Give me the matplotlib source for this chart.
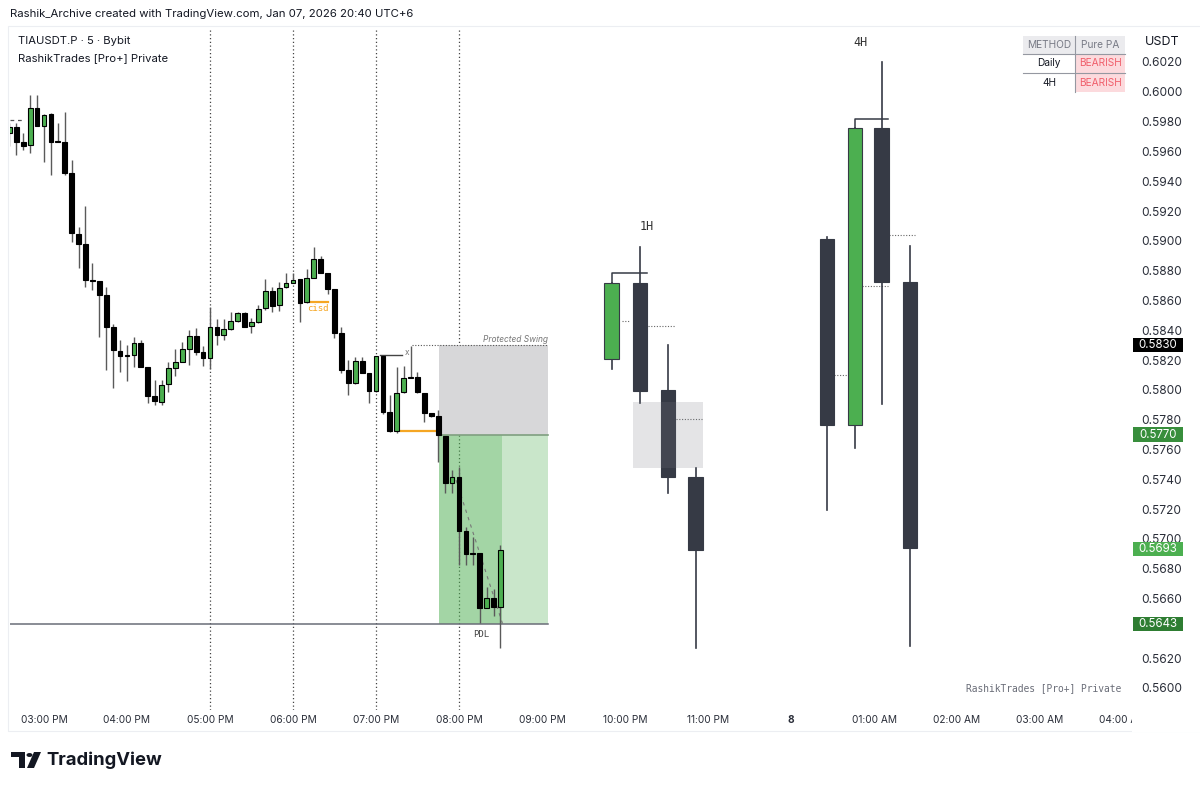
import matplotlib
matplotlib.use('Agg')
import matplotlib.pyplot as plt
import matplotlib.transforms as mtransforms
from matplotlib.patches import Rectangle, Polygon, Circle

plt.rcParams['font.family'] = ['Inter', 'DejaVu Sans']

# ---- 5 minute candles, first bar 14:35, last bar 20:30 ----
opens = [0.59724, 0.59764, 0.59663, 0.59643, 0.59891, 0.59771, 0.59851, 0.59670, 0.59663, 0.59455,
         0.59046, 0.58979, 0.58737, 0.58731, 0.58637, 0.58422, 0.58261, 0.58234, 0.58234, 0.58314,
         0.58153, 0.57959, 0.57919, 0.58039, 0.58147, 0.58187, 0.58274, 0.58361, 0.58254, 0.58214,
         0.58422, 0.58368, 0.58408, 0.58462, 0.58516, 0.58429, 0.58455, 0.58549, 0.58663, 0.58570,
         0.58690, 0.58717, 0.58744, 0.58590, 0.58751, 0.58878, 0.58784, 0.58677, 0.58382, 0.58133,
         0.58046, 0.58193, 0.58113, 0.57992, 0.58227, 0.57851, 0.57724, 0.57986, 0.58086, 0.58086,
         0.57979, 0.57845, 0.57825, 0.57690, 0.57375, 0.57415, 0.57053, 0.56905, 0.56905, 0.56536,
         0.56604, 0.56543]
highs = [0.59791, 0.59791, 0.59724, 0.59979, 0.59979, 0.59851, 0.59858, 0.59791, 0.59864, 0.59542,
         0.59093, 0.59234, 0.58851, 0.58731, 0.58690, 0.58442, 0.58335, 0.58301, 0.58355, 0.58335,
         0.58153, 0.58066, 0.58066, 0.58187, 0.58274, 0.58321, 0.58402, 0.58415, 0.58294, 0.58556,
         0.58475, 0.58475, 0.58522, 0.58522, 0.58522, 0.58482, 0.58570, 0.58744, 0.58690, 0.58724,
         0.58784, 0.58784, 0.58744, 0.58811, 0.58959, 0.58898, 0.58784, 0.58677, 0.58422, 0.58200,
         0.58221, 0.58221, 0.58113, 0.58227, 0.58227, 0.57966, 0.58153, 0.58160, 0.58294, 0.58120,
         0.57979, 0.57845, 0.57865, 0.57690, 0.57462, 0.57482, 0.57080, 0.57013, 0.56905, 0.56677,
         0.56664, 0.56959]
lows = [0.59636, 0.59576, 0.59610, 0.59589, 0.59771, 0.59529, 0.59442, 0.59663, 0.59442, 0.58992,
        0.58818, 0.58690, 0.58670, 0.58355, 0.58133, 0.58013, 0.58120, 0.58060, 0.58153, 0.58153,
        0.57912, 0.57899, 0.57899, 0.57986, 0.58093, 0.58187, 0.58167, 0.58234, 0.58160, 0.58140,
        0.58301, 0.58335, 0.58402, 0.58455, 0.58422, 0.58382, 0.58449, 0.58536, 0.58522, 0.58529,
        0.58684, 0.58717, 0.58455, 0.58583, 0.58751, 0.58784, 0.58643, 0.58348, 0.58113, 0.57966,
        0.58039, 0.58113, 0.57912, 0.57986, 0.57838, 0.57717, 0.57711, 0.57979, 0.58080, 0.57979,
        0.57784, 0.57818, 0.57516, 0.57308, 0.57308, 0.56825, 0.56825, 0.56825, 0.56436, 0.56536,
        0.56483, 0.56268]
closes = [0.59764, 0.59663, 0.59636, 0.59891, 0.59771, 0.59844, 0.59663, 0.59663, 0.59455, 0.59053,
          0.58979, 0.58737, 0.58731, 0.58637, 0.58422, 0.58268, 0.58227, 0.58227, 0.58314, 0.58153,
          0.57959, 0.57925, 0.58033, 0.58147, 0.58187, 0.58274, 0.58361, 0.58254, 0.58214, 0.58422,
          0.58368, 0.58408, 0.58462, 0.58516, 0.58422, 0.58455, 0.58543, 0.58663, 0.58563, 0.58684,
          0.58717, 0.58737, 0.58583, 0.58751, 0.58878, 0.58784, 0.58677, 0.58382, 0.58133, 0.58046,
          0.58193, 0.58113, 0.57992, 0.58227, 0.57851, 0.57724, 0.57979, 0.58080, 0.58080, 0.57986,
          0.57845, 0.57825, 0.57697, 0.57375, 0.57415, 0.57053, 0.56899, 0.56899, 0.56536, 0.56604,
          0.56543, 0.56926]
first_bar_hour = 14 + 35 / 60
bar_step = 5 / 60

# ---- 1H candles drawn by the indicator ----
h1_x = [21.843, 22.181, 22.518, 22.855]
h1_open = [0.58207, 0.58717, 0.58000, 0.57415]
h1_high = [0.58717, 0.58959, 0.58301, 0.57476]
h1_low = [0.58140, 0.57912, 0.57308, 0.56268]
h1_close = [0.58717, 0.57993, 0.57415, 0.56926]
h1_mid = [(21.964, 22.060, 0.58462), (22.277, 22.602, 0.58429), (22.614, 22.928, 0.57805)]
h1_swing = 0.58784
h1_gap = (22.096, 22.940, 0.57476, 0.57919)

# ---- 4H candles drawn by the indicator ----
h4_x = [24.434, 24.771, 25.096, 25.434]
h4_open = [0.59013, 0.57765, 0.59757, 0.58724]
h4_high = [0.59026, 0.59757, 0.60200, 0.58966]
h4_low = [0.57194, 0.57610, 0.57905, 0.56282]
h4_close = [0.57765, 0.59757, 0.58724, 0.56939]
h4_mid = [(24.518, 24.687, 0.58100), (24.855, 25.169, 0.58700), (25.181, 25.494, 0.59040)]
h4_swing = 0.59818

# ---- levels ----
protected_swing = 0.5830
entry_level = 0.5770
last_price = 0.5693
pdl_level = 0.5643
old_high_level = 0.59811
session_lines = [17, 18, 19, 20]

tick_hours = list(range(15, 29))
tick_labels = ['03:00 PM', '04:00 PM', '05:00 PM', '06:00 PM', '07:00 PM', '08:00 PM', '09:00 PM',
               '10:00 PM', '11:00 PM', '8', '01:00 AM', '02:00 AM', '03:00 AM', '04:00 AM']
price_ticks = [0.5600 + 0.002 * i for i in range(22)]

W, H = 1200, 789
fig = plt.figure(figsize=(12, 7.89), dpi=100)
fig.patch.set_facecolor('white')


def fx(x):
    return x / W


def fy(y):
    return 1 - y / H


ax = fig.add_axes([fx(10), fy(710), fx(1120), 682 / H])
ax.set_xlim(14.5904, 28.0843)
ax.set_ylim(0.55852, 0.60428)
for s in ax.spines.values():
    s.set_visible(False)

# session separators
for h in session_lines:
    ax.axvline(h, color='#444444', lw=0.9, ls=(0, (1, 2)), zorder=1)

# position / protected swing boxes
pos_start, pos_mid, pos_end = 19.759, 20.518, 21.072
ax.add_patch(Rectangle((pos_start, entry_level), pos_end - pos_start, protected_swing - entry_level,
                       facecolor='#d7d7d9', edgecolor='none', zorder=1))
ax.add_patch(Rectangle((pos_start, pdl_level), pos_end - pos_start, entry_level - pdl_level,
                       facecolor='#4caf50', alpha=0.3, edgecolor='none', zorder=1))
ax.add_patch(Rectangle((pos_start, pdl_level), pos_mid - pos_start, entry_level - pdl_level,
                       facecolor='#4caf50', alpha=0.3, edgecolor='none', zorder=1))
ax.plot([pos_start, pos_end], [entry_level, entry_level], color='#7f9f80', lw=1.2, zorder=2)
ax.plot([19.434, pos_end], [protected_swing, protected_swing], color='#555555', lw=0.8,
        ls=(0, (1, 1.5)), zorder=2)
ax.text(pos_end, protected_swing + 0.0001, 'Protected Swing', ha='right', va='bottom',
        fontsize=6, style='italic', color='#777777', zorder=3)
ax.plot([ax.get_xlim()[0], pos_end], [pdl_level, pdl_level], color='#6a6d78', lw=1.1, zorder=2)
ax.text(20.265, pdl_level - 0.0004, 'PDL', ha='center', va='top', fontsize=6.5,
        family='DejaVu Sans Mono', color='#444444', zorder=3)

# structure marks
ax.plot([ax.get_xlim()[0], 14.747], [old_high_level, old_high_level], color='#555555', lw=0.9,
        ls=(0, (3, 3)), zorder=2)
ax.plot([18.205, 18.422], [0.58590, 0.58590], color='#f5a623', lw=1.6, zorder=2)
ax.text(18.301, 0.58543, 'cisd', ha='center', va='center', fontsize=6.5,
        family='DejaVu Sans Mono', color='#f5a623', zorder=3)
ax.plot([19.301, 19.735], [0.57724, 0.57724], color='#f5a623', lw=1.6, zorder=2)
ax.plot([19.048, 19.313], [0.58234, 0.58234], color='#444444', lw=1.0, zorder=2)
ax.text(19.373, 0.58254, 'x', ha='center', va='center', fontsize=6, color='#777777', zorder=3)
ax.plot([19.964, 20.530], [0.57395, 0.56422], color='#777777', lw=0.8, ls=(0, (3, 4)), zorder=2)

# 5 minute candles
bar_x = [first_bar_hour + i * bar_step for i in range(len(opens))]
for x, o, hi, lo, c in zip(bar_x, opens, highs, lows, closes):
    ax.plot([x, x], [lo, hi], color='#5a5a5a', lw=1.0, zorder=3, solid_capstyle='butt')
    up = c > o
    ax.bar(x, max(abs(c - o), 0.00004), bottom=min(o, c), width=0.058,
           color='#4caf50' if up else '#000000', edgecolor='#000000', lw=0.8, zorder=4)


def draw_htf(xs, o_, h_, l_, c_, width):
    for x, o, hi, lo, c in zip(xs, o_, h_, l_, c_):
        ax.plot([x, x], [lo, hi], color='#363a45', lw=1.2, zorder=3)
        up = c > o
        ax.bar(x, abs(c - o), bottom=min(o, c), width=width,
               color='#4caf50' if up else '#363a45', edgecolor='#363a45', lw=0.8, zorder=4)


draw_htf(h1_x, h1_open, h1_high, h1_low, h1_close, 0.18)
draw_htf(h4_x, h4_open, h4_high, h4_low, h4_close, 0.18)

for x0, x1, y in h1_mid + h4_mid:
    ax.plot([x0, x1], [y, y], color='#666666', lw=0.8, ls=(0, (1, 1.5)), zorder=2)

ax.plot([h1_x[0], h1_x[0], 22.265], [h1_close[0], h1_swing, h1_swing], color='#363a45', lw=1.1, zorder=3)
ax.plot([h4_x[1], h4_x[1], 25.169], [h4_close[1], h4_swing, h4_swing], color='#363a45', lw=1.1, zorder=3)
gx0, gx1, gy0, gy1 = h1_gap
ax.add_patch(Rectangle((gx0, gy0), gx1 - gx0, gy1 - gy0, facecolor='#787b86', alpha=0.2,
                       edgecolor='none', zorder=5))
ax.text(22.265, 0.59093, '1H', ha='center', va='center', fontsize=8.5,
        family='DejaVu Sans Mono', color='#333333')
ax.text(24.843, 0.60334, '4H', ha='center', va='center', fontsize=8.5,
        family='DejaVu Sans Mono', color='#333333')

# axes ticks
ax.set_xticks(tick_hours)
ax.set_xticklabels(tick_labels)
for lbl in ax.get_xticklabels():
    if lbl.get_text() == '8':
        lbl.set_fontweight('bold')
ax.tick_params(axis='x', length=0, pad=3.5, labelsize=7.3, labelcolor='#2a2e39')
ax.yaxis.tick_right()
ax.set_yticks(price_ticks)
# 0.5640 sits under the PDL price tag, so it is left blank as on the scale
ax.set_yticklabels(['' if abs(p - 0.564) < 1e-6 else f'{p:.4f}' for p in price_ticks])
ax.tick_params(axis='y', length=0, pad=8, labelsize=8.6, labelcolor='#2a2e39')

# price labels on the scale
blend = mtransforms.blended_transform_factory(ax.transAxes, ax.transData)
for price, col in [(protected_swing, '#000000'), (entry_level, '#388e3c'),
                   (last_price, '#4caf50'), (pdl_level, '#2e7d32')]:
    ax.add_patch(Rectangle((1.0027, price - 0.00048), 0.0446, 0.00096, facecolor=col,
                           edgecolor='none', transform=blend, clip_on=False, zorder=6))
    ax.text(1.025, price, f'{price:.4f}', transform=blend, ha='center', va='center',
            fontsize=8.3, color='white', clip_on=False, zorder=7)

# hide overflow of last time label into the price scale
fig.patches.append(Rectangle((fx(1132), fy(732)), fx(68), 22 / H, transform=fig.transFigure,
                             facecolor='white', edgecolor='none', zorder=5))

# pane border
fig.patches.append(Rectangle((fx(8), fy(731)), fx(1200), 705 / H, transform=fig.transFigure,
                             facecolor='none', edgecolor='#eceef2', lw=0.8, zorder=0))

fig.text(fx(1162), fy(42), 'USDT', ha='center', va='center', fontsize=9, color='#131722')
ax.text(0.992, (710 - 688) / 682, 'RashikTrades [Pro+] Private', transform=ax.transAxes,
        ha='right', va='center', fontsize=6.9, family='DejaVu Sans Mono', color='#6a6d78')

# header / legend text
fig.text(fx(10), fy(14), 'Rashik_Archive created with TradingView.com, Jan 07, 2026 20:40 UTC+6',
         ha='left', va='center', fontsize=8.2, color='#131722')
fig.text(fx(18), fy(41), 'TIAUSDT.P · 5 · Bybit', ha='left', va='center', fontsize=8.1, color='#131722')
fig.text(fx(18), fy(58), 'RashikTrades [Pro+] Private', ha='left', va='center', fontsize=8.1,
         color='#131722')

# status table
cells = [('METHOD', 'Pure PA'), ('Daily', 'BEARISH'), ('4H', 'BEARISH')]
row_y = [36, 54, 73, 92]
col_x = [1023, 1075, 1125]
for r, (a, b) in enumerate(cells):
    y0, y1 = row_y[r], row_y[r + 1]
    bg_a = '#ebebee' if r == 0 else 'white'
    bg_b = '#ebebee' if r == 0 else '#fcdadd'
    fig.patches.append(Rectangle((fx(col_x[0]), fy(y1)), fx(col_x[1] - col_x[0]), (y1 - y0) / H,
                                 transform=fig.transFigure, facecolor=bg_a, edgecolor='none'))
    fig.patches.append(Rectangle((fx(col_x[1]), fy(y1)), fx(col_x[2] - col_x[1]), (y1 - y0) / H,
                                 transform=fig.transFigure, facecolor=bg_b, edgecolor='none'))
    ca = '#787b86' if r == 0 else '#131722'
    cb = '#787b86' if r == 0 else '#f0606c'
    fig.text(fx((col_x[0] + col_x[1]) / 2), fy((y0 + y1) / 2), a, ha='center', va='center',
             fontsize=7.3, color=ca)
    fig.text(fx((col_x[1] + col_x[2]) / 2), fy((y0 + y1) / 2), b, ha='center', va='center',
             fontsize=7.3, color=cb)
for y in row_y[1:3]:
    fig.lines.append(plt.Line2D([fx(col_x[0]), fx(col_x[2])], [fy(y), fy(y)],
                                transform=fig.transFigure, color='#9598a1', lw=0.8))
fig.lines.append(plt.Line2D([fx(col_x[1]), fx(col_x[1])], [fy(row_y[0]), fy(row_y[-1])],
                            transform=fig.transFigure, color='#9598a1', lw=0.8))

# TradingView logo
logo = '#131722'
fig.patches.append(Polygon([(fx(11), fy(752)), (fx(25), fy(752)), (fx(25), fy(768)), (fx(19), fy(768)),
                            (fx(19), fy(757)), (fx(11), fy(757))], closed=True,
                           transform=fig.transFigure, facecolor=logo, edgecolor='none'))
fig.patches.append(Circle((fx(29.5), fy(755)), 3 / W, transform=fig.transFigure,
                          facecolor=logo, edgecolor='none'))
fig.patches.append(Polygon([(fx(34), fy(752)), (fx(41), fy(752)), (fx(34), fy(768)), (fx(27), fy(768))],
                           closed=True, transform=fig.transFigure, facecolor=logo, edgecolor='none'))
fig.text(fx(46), fy(760), 'TradingView', ha='left', va='center', fontsize=13.3, fontweight='bold',
         color=logo)

fig.savefig('out.png', dpi=100, facecolor='white')
